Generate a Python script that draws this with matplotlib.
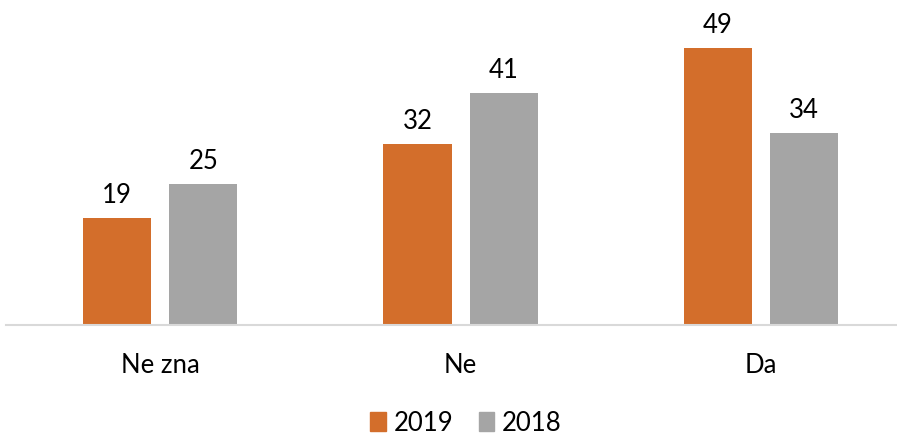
import matplotlib
matplotlib.use("Agg")
import matplotlib.pyplot as plt
import numpy as np
from matplotlib.patches import Patch

categories = ["Ne zna", "Ne", "Da"]
series_names = ["2019", "2018"]
values_2019 = [19, 32, 49]
values_2018 = [25, 41, 34]
colors = ["#D36E2B", "#A5A5A5"]

plt.rcParams['font.family'] = ['Lato', 'DejaVu Sans']
FS = 18.5

fig = plt.figure(figsize=(8.97, 4.36), dpi=100)
ax = fig.add_axes([6/897, (436-325)/436, 1 - 6/897, (325-14)/436])

x = np.arange(len(categories))
w = 0.227
gap = 0.06
off = (w + gap) / 2
b1 = ax.bar(x - off, values_2019, w, color=colors[0], label=series_names[0])
b2 = ax.bar(x + off, values_2018, w, color=colors[1], label=series_names[1])

for bars in (b1, b2):
    for r in bars:
        ax.annotate(f"{int(r.get_height())}", (r.get_x() + r.get_width()/2, r.get_height()),
                    xytext=(0, 7), textcoords="offset points", ha="center", va="bottom",
                    fontsize=FS, color="#000000")

ax.set_xlim(-0.513, 2.453)
ax.set_ylim(0, 55)
ax.set_xticks(x)
ax.set_xticklabels(categories, fontsize=FS)
ax.tick_params(axis='x', length=0, pad=20)
ax.set_yticks([])
for s in ["top", "right", "left"]:
    ax.spines[s].set_visible(False)
ax.spines["bottom"].set_color("#D9D9D9")
ax.spines["bottom"].set_linewidth(1.5)

handles = [Patch(color=colors[0]), Patch(color=colors[1])]
fig.legend(handles, series_names, loc="center", bbox_to_anchor=(466/897, 1 - 423/436),
           ncol=2, frameon=False, fontsize=FS, handlelength=0.6, handleheight=0.75,
           handletextpad=0.3, columnspacing=1.0, borderaxespad=0, borderpad=0)

fig.savefig("out.png", dpi=100)
